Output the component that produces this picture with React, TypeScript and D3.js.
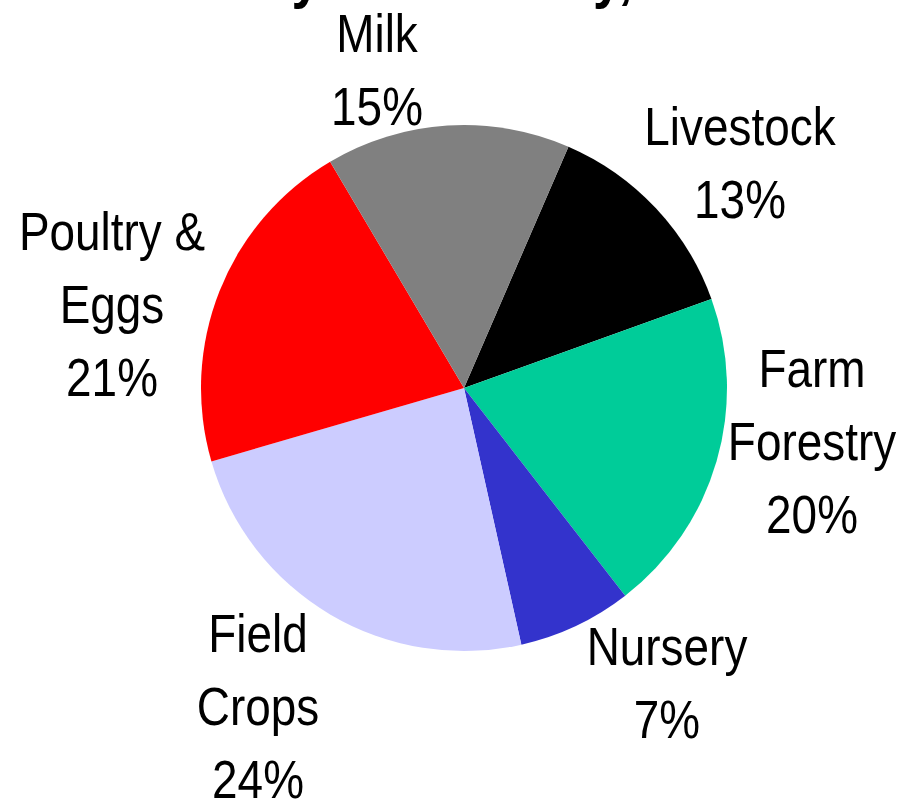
import React from "react";
import * as d3 from "d3";

const categories = ["Livestock", "Farm Forestry", "Nursery", "Field Crops", "Poultry & Eggs", "Milk"];
const shares = [13, 20, 7, 24, 21, 15];
const labelLines = [["Livestock"], ["Farm", "Forestry"], ["Nursery"], ["Field", "Crops"], ["Poultry &", "Eggs"], ["Milk"]];
const colors = ["#000000", "#00CC99", "#3333CC", "#CCCCFF", "#FF0000", "#808080"];
const titleText = "Sales by Commodity, 2002";

// layout (label anchors: centre x, first baseline y)
const labelAnchors = [
  { x: 740, y: 145 },
  { x: 812, y: 387 },
  { x: 667, y: 665 },
  { x: 258, y: 652 },
  { x: 112, y: 250 },
  { x: 377, y: 52 },
];

const W = 901;
const H = 806;
const cx = 464;
const cy = 388;
const R = 263;
const startDeg = 23.4;
const lineH = 73;
const squeeze = 0.85;
const font = "'Liberation Sans Narrow', 'Liberation Sans', Arial, sans-serif";

export default function App() {
  const data = categories.map((c, i) => ({ name: c, value: shares[i], idx: i }));
  const start = (startDeg * Math.PI) / 180;
  const pie = d3
    .pie<any>()
    .sort(null)
    .value((d) => d.value)
    .startAngle(start)
    .endAngle(start + 2 * Math.PI);
  const arcs = pie(data);
  const arc = d3.arc<any>().innerRadius(0).outerRadius(R);

  return (
    <svg width={W} height={H} style={{ position: "absolute", left: 0, top: 0, background: "#fff" }}>
      <g transform={`translate(436,-3) scale(0.87,1)`}>
        <text x={0} y={0} textAnchor="middle" fontFamily={font} fontWeight="bold" fontSize={60} fill="#000">
          {titleText}
        </text>
      </g>
      <g transform={`translate(${cx},${cy})`}>
        {arcs.map((a, i) => (
          <path key={i} d={arc(a) as string} fill={colors[i]} />
        ))}
      </g>
      {arcs.map((a, i) => {
        const lines = [...labelLines[i], `${shares[i]}%`];
        const anc = labelAnchors[i];
        return (
          <g key={i} transform={`translate(${anc.x},${anc.y}) scale(${squeeze},1)`}>
            <text textAnchor="middle" fontFamily={font} fontSize={54} fill="#000">
              {lines.map((l, j) => (
                <tspan key={j} x={0} y={j * lineH}>
                  {l}
                </tspan>
              ))}
            </text>
          </g>
        );
      })}
    </svg>
  );
}
